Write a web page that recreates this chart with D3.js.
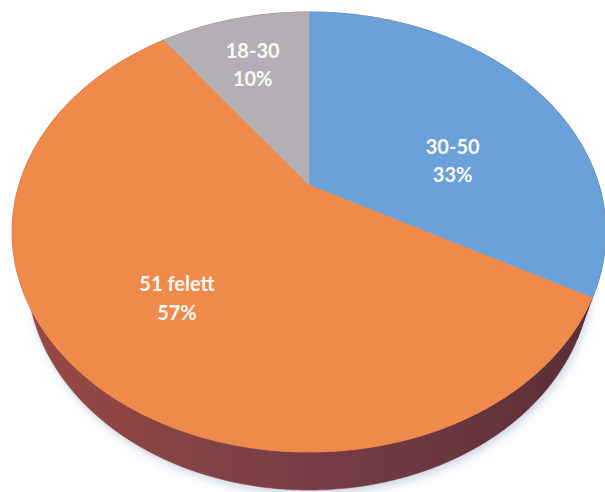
<!DOCTYPE html>
<html>
<head>
<meta charset="utf-8">
<script src="https://cdn.jsdelivr.net/npm/d3@7"></script>
<style>
  html, body { margin: 0; padding: 0; background: #ffffff; }
  svg { display: block; }
</style>
</head>
<body>
<svg id="chart" width="605" height="492"></svg>
<script>
// Age groups of respondents
const categories = ["30-50", "51 felett", "18-30"];
const values = [33, 57, 10];
const percentLabels = ["33%", "57%", "10%"];

// Slice colours (top faces)
const sliceColors = ["#6aa1db", "#f08a4a", "#b3afb4"];

// Perspective camera for the tilted pie
const view = {
  cx: 309, cy: 185,      // screen position of the pie centre
  focal: 935.5,          // focal length (px per unit at distance 1)
  dist: 1,               // camera distance to pie centre
  radius: 0.31,          // pie radius (world units)
  tilt: 46.4 * Math.PI / 180,
  thickness: 0.0702
};

// Label placement inside each slice (fraction of radius, angle nudge in degrees)
const labelLayout = [
  { r: 0.53, nudge: 15 },
  { r: 0.62, nudge: 0 },
  { r: 0.72, nudge: 0 }
];

const sinA = Math.sin(view.tilt), cosA = Math.cos(view.tilt);

// Project a point of the pie (angle clockwise from the far side, radius fraction, height)
function project(theta, frac, h) {
  const u = view.radius * frac * Math.sin(theta);
  const w = view.radius * frac * Math.cos(theta);   // positive = away from viewer
  const yc = h * cosA + w * sinA;
  const zc = view.dist + w * cosA - h * sinA;
  return [view.cx + view.focal * u / zc, view.cy - view.focal * yc / zc];
}

const svg = d3.select("#chart");
const defs = svg.append("defs");

defs.append("filter").attr("id", "soft")
  .attr("x", "-20%").attr("y", "-20%").attr("width", "140%").attr("height", "140%")
  .append("feGaussianBlur").attr("stdDeviation", 5);

const wallGrad = defs.append("linearGradient").attr("id", "wall")
  .attr("gradientUnits", "userSpaceOnUse")
  .attr("x1", 10).attr("y1", 0).attr("x2", 605).attr("y2", 0);
wallGrad.append("stop").attr("offset", "0%").attr("stop-color", "#9a4a42");
wallGrad.append("stop").attr("offset", "45%").attr("stop-color", "#7b3f46");
wallGrad.append("stop").attr("offset", "100%").attr("stop-color", "#5a2d37");

const pie = d3.pie().sort(null).value(d => d)(values);

const line = d3.line();
const step = Math.PI / 360;

function arcPoints(a0, a1, frac, h) {
  const pts = [];
  const n = Math.max(2, Math.ceil((a1 - a0) / step));
  for (let i = 0; i <= n; i++) pts.push(project(a0 + (a1 - a0) * i / n, frac, h));
  return pts;
}

// Soft shadow under the disc
const shadowPts = arcPoints(0, 2 * Math.PI, 1.0, -view.thickness)
  .map(([x, y]) => [x + 2, y + 4]);
svg.append("path")
  .attr("d", line(shadowPts) + "Z")
  .attr("fill", "#9aaac4")
  .attr("opacity", 0.5)
  .attr("filter", "url(#soft)");

// Outer walls (drawn first; far portions get covered by the top faces)
const walls = svg.append("g");
pie.forEach(s => {
  const top = arcPoints(s.startAngle, s.endAngle, 1, 0);
  const bottom = arcPoints(s.startAngle, s.endAngle, 1, -view.thickness).reverse();
  walls.append("path")
    .attr("d", line(top.concat(bottom)) + "Z")
    .attr("fill", "url(#wall)")
    .attr("stroke", "url(#wall)")
    .attr("stroke-width", 0.6);
});

// Top faces
const faces = svg.append("g");
pie.forEach((s, i) => {
  const pts = [project(0, 0, 0)].concat(arcPoints(s.startAngle, s.endAngle, 1, 0));
  faces.append("path")
    .attr("d", line(pts) + "Z")
    .attr("fill", sliceColors[i])
    .attr("stroke", sliceColors[i])
    .attr("stroke-width", 0.6);
});

// Data labels
const labels = svg.append("g")
  .attr("font-family", "Lato, 'Open Sans', sans-serif")
  .attr("font-weight", 700)
  .attr("font-size", 20)
  .attr("fill", "#fdfaf6")
  .attr("text-anchor", "middle");

pie.forEach((s, i) => {
  const mid = (s.startAngle + s.endAngle) / 2 + labelLayout[i].nudge * Math.PI / 180;
  const [x, y] = project(mid, labelLayout[i].r, 0);
  const t = labels.append("text").attr("x", x).attr("y", y);
  t.append("tspan").attr("x", x).attr("dy", "-0.1em").text(categories[i]);
  t.append("tspan").attr("x", x).attr("dy", "1.42em").text(percentLabels[i]);
});
</script>
</body>
</html>
